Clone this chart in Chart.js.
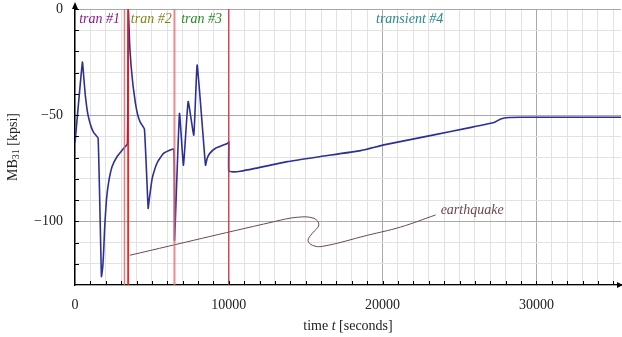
<!DOCTYPE html>
<html>
<head>
<meta charset="utf-8">
<script src="https://cdn.jsdelivr.net/npm/chart.js@4.4.1/dist/chart.umd.min.js"></script>
<style>
  html, body { margin: 0; padding: 0; background: #fff; }
  #wrap { width: 622px; height: 337px; position: relative; }
</style>
</head>
<body>
<div id="wrap"><canvas id="chart"></canvas></div>
<script>
// stress history (time in seconds, MB31 in kpsi)
const timeSec = [0, 481, 566, 677, 787, 891, 1047, 1217, 1503,
  1718, 1803, 1867, 1932, 2043, 2193, 2414, 2739, 3169, 3409,
  3470, 3559, 3650, 3780, 3930, 4079, 4255, 4515,
  4756, 4821, 4906, 5016, 5166, 5381, 5771, 6422,
  6470, 6793, 7052, 7358, 7723, 7944,
  8484, 8594, 8764, 9135, 9935, 10000, 10000,
  10325, 10761, 11626, 13800, 15966, 18568, 20085, 23338, 25511, 27241, 27677, 28217, 28979, 35550];
const stressKpsi = [-63, -25, -31.8, -41.2, -47.5, -51.4, -55.4, -58.2, -60.9,
  -126, -121.5, -113.5, -102.5, -90, -81.3, -74.2, -69.5, -65.6, -63.5,
  -1, -17.6, -27.1, -36.5, -44.4, -49.9, -53.5, -56.6,
  -93.9, -90, -85.4, -79.9, -75.9, -71.9, -67.9, -66.0,
  -109, -49.2, -73.6, -43.6, -59.4, -26.4,
  -73.6, -70.3, -68.0, -65.6, -63.2, -62.5, -76.3,
  -76.7, -76.4, -75.2, -71.9, -69.5, -66.7, -64.0, -59.3, -56.1, -53.5, -51.8, -51.1, -51.0, -51.0];

// earthquake annotation curve
const quakeX = [3559, 12928, 14450, 15530, 15855, 15426, 15150, 15445, 16096, 19005, 21171, 23448];
const quakeY = [-116.0, -100.2, -98.1, -98.6, -101.7, -105.7, -109, -111.3, -111.8, -106.6, -102.7, -97.0];

// transient boundaries and labels
const transientEdges = [3214, 3455, 6467, 10000];
const transientNames = ['tran #1', 'tran #2', 'tran #3', 'transient #4'];
const transientLabelX = [1600, 4960, 8230, 21760];
const transientLabelY = -5;
const quakeLabel = 'earthquake';
const quakeLabelX = 23774;
const quakeLabelY = -94.7;

const xTickLabels = [0, 10000, 20000, 30000];
const yTickLabels = [0, -50, -100];

const edgeColors = ['rgba(255,90,90,0.85)', 'rgba(235,25,25,0.95)', 'rgba(240,105,115,0.8)', 'rgba(215,45,60,0.8)'];
const edgeWidths = [1.4, 1.8, 2, 1.5];
const labelColors = ['#8a1a8a', '#85851a', '#2a8a2a', '#2a8a8a'];
const SERIF = "'Liberation Serif', 'DejaVu Serif', serif";

const datasets = [];
transientEdges.forEach((x, i) => {
    datasets.push({
        data: [{ x: x, y: 0 }, { x: x, y: -130 }],
        borderColor: edgeColors[i],
        borderWidth: edgeWidths[i],
        pointRadius: 0,
        showLine: true,
        order: 1
    });
});
datasets.push({
    data: timeSec.map((t, i) => ({ x: t, y: stressKpsi[i] })),
    borderColor: '#2d3194',
    borderWidth: 1.6,
    pointRadius: 0,
    showLine: true,
    tension: 0.12,
    order: 2
});
datasets.push({
    data: quakeX.map((t, i) => ({ x: t, y: quakeY[i] })),
    borderColor: '#6b4a4a',
    borderWidth: 1,
    pointRadius: 0,
    showLine: true,
    tension: 0.4,
    order: 3
});

const decorPlugin = {
    id: 'decor',
    afterDraw(chart) {
        const ctx = chart.ctx;
        const xs = chart.scales.x, ys = chart.scales.y;
        const a = chart.chartArea;
        ctx.save();
        // inside tick marks
        ctx.strokeStyle = '#000';
        ctx.lineWidth = 1;
        ctx.beginPath();
        for (let v = 1000; v <= 35000; v += 1000) {
            const px = Math.round(xs.getPixelForValue(v)) + 0.5;
            ctx.moveTo(px, a.bottom);
            ctx.lineTo(px, a.bottom - 4);
        }
        for (let v = -120; v <= 0; v += 10) {
            const py = Math.round(ys.getPixelForValue(v)) + 0.5;
            ctx.moveTo(a.left, py);
            ctx.lineTo(a.left + 4, py);
        }
        ctx.stroke();
        // axis arrows
        ctx.fillStyle = '#000';
        ctx.beginPath();
        ctx.moveTo(a.left, a.top - 7);
        ctx.lineTo(a.left - 3, a.top);
        ctx.lineTo(a.left + 3, a.top);
        ctx.closePath();
        ctx.fill();
        ctx.beginPath();
        ctx.moveTo(a.right + 2, a.bottom);
        ctx.lineTo(a.right - 4, a.bottom - 3);
        ctx.lineTo(a.right - 4, a.bottom + 3);
        ctx.closePath();
        ctx.fill();

        // transient labels
        ctx.font = 'italic 14px ' + SERIF;
        ctx.textAlign = 'center';
        ctx.textBaseline = 'middle';
        transientNames.forEach((name, i) => {
            ctx.fillStyle = labelColors[i];
            ctx.fillText(name, xs.getPixelForValue(transientLabelX[i]), ys.getPixelForValue(transientLabelY));
        });
        ctx.fillStyle = '#6b4a4a';
        ctx.textAlign = 'left';
        ctx.fillText(quakeLabel, xs.getPixelForValue(quakeLabelX), ys.getPixelForValue(quakeLabelY));

        // x axis title: time t [seconds]
        ctx.fillStyle = '#222';
        ctx.textBaseline = 'middle';
        const up = '14px ' + SERIF, it = 'italic 14px ' + SERIF;
        const parts = [['time ', up], ['t', it], [' [seconds]', up]];
        let total = 0;
        parts.forEach(p => { ctx.font = p[1]; total += ctx.measureText(p[0]).width; });
        let cx = (a.left + a.right) / 2 - total / 2;
        const ty = 326;
        parts.forEach(p => {
            ctx.font = p[1];
            ctx.fillText(p[0], cx, ty);
            cx += ctx.measureText(p[0]).width;
        });

        // y axis title: MB31 [kpsi]
        ctx.translate(13, (a.top + a.bottom) / 2);
        ctx.rotate(-Math.PI / 2);
        const sub = '10px ' + SERIF;
        const yparts = [['MB', up, 0], ['31', sub, 3], [' [kpsi]', up, 0]];
        total = 0;
        yparts.forEach(p => { ctx.font = p[1]; total += ctx.measureText(p[0]).width; });
        cx = -total / 2;
        yparts.forEach(p => {
            ctx.font = p[1];
            ctx.fillText(p[0], cx, p[2]);
            cx += ctx.measureText(p[0]).width;
        });
        ctx.restore();
    }
};

new Chart(document.getElementById('chart'), {
    type: 'scatter',
    data: { datasets: datasets },
    options: {
        responsive: true,
        maintainAspectRatio: false,
        animation: false,
        layout: { padding: { top: 9, right: 1, left: 0, bottom: 0 } },
        plugins: { legend: { display: false }, tooltip: { enabled: false } },
        scales: {
            x: {
                type: 'linear',
                min: 0,
                max: 35500,
                afterFit: s => { s.height = 52; s.paddingLeft = 0; s.paddingRight = 0; },
                afterBuildTicks: s => {
                    const t = [];
                    for (let v = 0; v <= 35000; v += 1000) t.push({ value: v });
                    s.ticks = t;
                },
                ticks: {
                    autoSkip: false,
                    maxRotation: 0,
                    padding: 12,
                    color: '#222',
                    font: { family: SERIF, size: 14 },
                    callback: v => xTickLabels.includes(v) ? String(v) : ''
                },
                grid: {
                    drawTicks: false,
                    lineWidth: 1,
                    color: c => (c.tick && c.tick.value % 10000 === 0) ? '#a9a9a9' : '#e2e2e2'
                },
                border: { color: '#000', width: 1.3 }
            },
            y: {
                type: 'linear',
                min: -130,
                max: 0,
                afterFit: s => { s.width = 75; s.paddingTop = 0; s.paddingBottom = 0; },
                afterBuildTicks: s => {
                    const t = [];
                    for (let v = -130; v <= 0; v += 10) t.push({ value: v });
                    s.ticks = t;
                },
                ticks: {
                    autoSkip: false,
                    padding: 12,
                    color: '#222',
                    font: { family: SERIF, size: 14 },
                    callback: v => yTickLabels.includes(v) ? (v < 0 ? '\u2212' + (-v) : String(v)) : ''
                },
                grid: {
                    drawTicks: false,
                    lineWidth: 1,
                    color: c => (c.tick && c.tick.value % 50 === 0) ? '#a9a9a9' : '#e2e2e2'
                },
                border: { color: '#000', width: 1.3 }
            }
        }
    },
    plugins: [decorPlugin]
});
</script>
</body>
</html>
